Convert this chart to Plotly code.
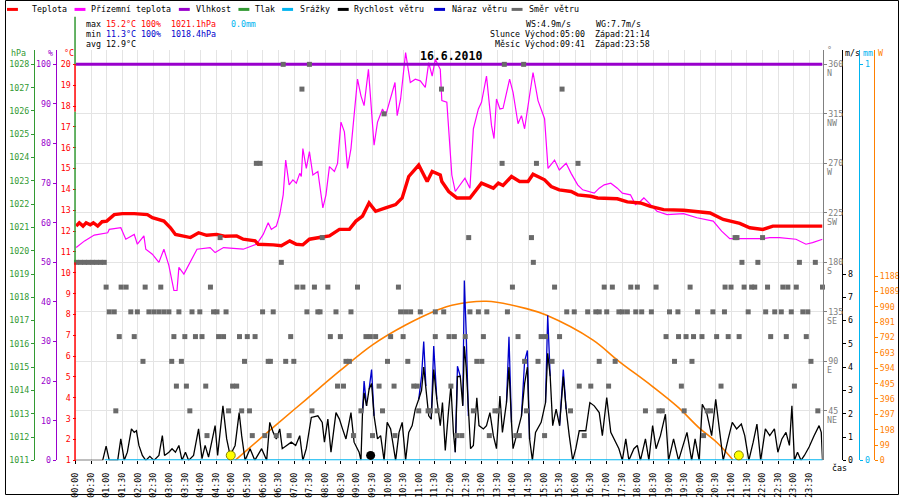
import plotly.graph_objects as go

# ---------------- data ----------------
tick_hours = [i * 0.5 for i in range(48)]
time_labels = ["%02d:%02d" % (int(h), 30 if h % 1 else 0) for h in tick_hours]

# air temperature (°C)
temp_t = [0.02, 0.12, 0.24, 0.34, 0.47, 0.57, 0.71, 0.85, 1.00, 1.24,
          1.50, 1.88, 2.30, 2.46, 2.83, 3.04, 3.20, 3.68, 3.94, 4.20,
          4.52, 4.80, 5.16, 5.37, 5.75, 5.85, 6.33, 6.59, 6.86, 7.07,
          7.28, 7.49, 7.81, 8.13, 8.45, 8.77, 8.98, 9.19, 9.40, 9.61,
          9.93, 10.25, 10.46, 10.67, 10.99, 11.26, 11.42, 11.68, 11.73, 11.95,
          12.21, 12.63, 13.00, 13.38, 13.54, 13.69, 13.96, 14.22, 14.49, 14.65,
          15.02, 15.23, 15.49, 15.87, 16.08, 16.50, 16.72, 17.35, 17.67, 18.09,
          18.41, 18.83, 19.47, 19.90, 20.32, 20.74, 21.27, 21.59, 22.01, 22.33,
          23.92]
temp_v = [12.24, 12.40, 12.24, 12.40, 12.30, 12.40, 12.24, 12.45, 12.48, 12.79,
          12.84, 12.84, 12.79, 12.64, 12.48, 12.16, 11.84, 11.69, 11.92, 11.80,
          11.84, 11.75, 11.77, 11.61, 11.53, 11.37, 11.34, 11.30, 11.53, 11.37,
          11.34, 11.61, 11.69, 11.77, 12.08, 12.08, 12.48, 12.72, 13.35, 12.95,
          13.11, 13.27, 13.59, 14.62, 15.17, 14.38, 14.86, 14.69, 14.38, 13.90,
          13.59, 13.59, 14.30, 14.06, 14.30, 14.19, 14.62, 14.38, 14.38, 14.73,
          14.46, 14.14, 13.98, 13.90, 13.74, 13.67, 13.59, 13.55, 13.40, 13.35,
          13.19, 13.03, 13.00, 12.95, 12.87, 12.56, 12.37, 12.16, 12.08, 12.24,
          12.24]

# ground temperature (°C)
ground_t = [0.02, 0.29, 0.60, 1.03, 1.08, 1.45, 1.61, 1.77, 1.88, 1.98,
            2.19, 2.25, 2.46, 2.67, 2.83, 2.99, 3.15, 3.25, 3.31, 3.47,
            3.62, 3.89, 4.31, 4.47, 4.74, 5.37, 5.80, 6.01, 6.17, 6.27,
            6.43, 6.54, 6.65, 6.73, 6.84, 6.96, 7.07, 7.18, 7.23, 7.28,
            7.39, 7.49, 7.60, 7.76, 7.92, 8.02, 8.13, 8.29, 8.39, 8.50,
            8.61, 8.71, 8.82, 8.93, 9.03, 9.14, 9.24, 9.38, 9.45, 9.56,
            9.67, 9.83, 9.93, 10.09, 10.23, 10.30, 10.41, 10.57, 10.72, 10.88,
            11.04, 11.20, 11.31, 11.42, 11.52, 11.68, 11.73, 11.89, 12.05, 12.16,
            12.47, 12.63, 12.74, 12.90, 13.00, 13.16, 13.32, 13.40, 13.48, 13.59,
            13.69, 13.90, 14.01, 14.17, 14.28, 14.38, 14.65, 14.81, 15.02, 15.13,
            15.34, 15.49, 15.71, 15.87, 16.08, 16.24, 16.61, 16.77, 16.93, 17.14,
            17.35, 17.51, 17.77, 17.93, 18.09, 18.20, 18.41, 18.62, 18.94, 19.47,
            19.90, 20.42, 20.69, 20.95, 22.01, 22.23, 22.54, 23.07, 23.39, 23.60,
            23.92]
ground_v = [11.21, 11.53, 11.81, 11.92, 12.08, 12.16, 11.61, 11.77, 11.84, 11.37,
            11.77, 11.13, 10.89, 10.50, 11.13, 10.34, 9.15, 9.15, 10.26, 9.94,
            10.34, 11.13, 11.21, 10.97, 11.21, 11.13, 11.37, 11.84, 12.40, 12.08,
            12.24, 12.79, 13.74, 15.41, 14.22, 14.46, 14.30, 14.77, 14.62, 15.96,
            15.01, 15.81, 14.69, 14.86, 13.11, 13.74, 15.09, 14.86, 15.25, 17.23,
            16.76, 15.01, 15.96, 17.62, 19.29, 18.49, 18.02, 19.76, 18.18, 16.12,
            17.23, 17.86, 17.54, 18.34, 19.13, 17.54, 18.34, 20.56, 19.13, 19.29,
            19.21, 18.89, 20.08, 19.44, 20.24, 19.76, 18.26, 18.18, 14.69, 13.90,
            14.54, 14.06, 16.91, 17.86, 18.18, 19.44, 17.07, 16.44, 18.34, 17.86,
            17.89, 19.29, 18.66, 17.15, 17.54, 16.91, 19.61, 18.26, 17.39, 15.01,
            15.41, 14.93, 15.25, 14.77, 14.22, 13.98, 13.82, 14.06, 14.22, 14.30,
            14.06, 13.82, 13.74, 13.27, 13.43, 13.59, 13.27, 12.95, 12.79, 12.84,
            12.64, 12.48, 12.00, 11.64, 11.64, 11.69, 11.69, 11.61, 11.37, 11.45,
            11.61]

# humidity (%)
hum_t = [0.00, 6.00, 12.00, 18.00, 23.92]
hum_v = [100, 100, 100, 100, 100]

# precipitation (mm)
rain_t = [0.93, 23.92]
rain_v = [0.0, 0.0]

# wind speed (m/s)
wind_t = [0.00, 0.87, 0.98, 1.08, 1.35, 1.45, 1.56, 1.66, 1.79, 1.88,
          1.95, 2.03, 2.14, 2.25, 2.38, 2.51, 2.67, 2.78, 2.85, 2.99,
          3.09, 3.20, 3.31, 3.41, 3.52, 3.62, 3.78, 3.94, 4.05, 4.15,
          4.26, 4.47, 4.55, 4.72, 4.84, 4.95, 5.11, 5.24, 5.32, 5.43,
          5.59, 5.74, 5.96, 6.12, 6.22, 6.33, 6.43, 6.54, 6.62, 6.75,
          6.91, 7.05, 7.18, 7.28, 7.39, 7.55, 7.76, 7.90, 7.97, 8.08,
          8.18, 8.34, 8.45, 8.55, 8.66, 8.82, 8.92, 9.08, 9.14, 9.19,
          9.24, 9.32, 9.40, 9.48, 9.56, 9.67, 9.77, 9.88, 9.98, 10.09,
          10.20, 10.25, 10.36, 10.46, 10.57, 10.67, 10.78, 10.88, 10.99, 11.08,
          11.15, 11.22, 11.31, 11.39, 11.47, 11.57, 11.68, 11.75, 11.84, 11.94,
          12.02, 12.10, 12.16, 12.23, 12.32, 12.40, 12.45, 12.51, 12.58, 12.65,
          12.74, 12.85, 12.92, 13.06, 13.16, 13.27, 13.38, 13.48, 13.59, 13.67,
          13.80, 13.88, 13.96, 14.01, 14.12, 14.28, 14.38, 14.47, 14.54, 14.63,
          14.73, 14.91, 15.05, 15.12, 15.20, 15.28, 15.39, 15.50, 15.62, 15.71,
          15.81, 15.92, 16.02, 16.13, 16.34, 16.47, 16.61, 16.77, 16.87, 17.01,
          17.14, 17.24, 17.40, 17.51, 17.62, 17.72, 17.88, 17.99, 18.09, 18.25,
          18.36, 18.48, 18.59, 18.73, 18.89, 18.99, 19.15, 19.31, 19.47, 19.58,
          19.73, 19.84, 19.97, 20.07, 20.21, 20.37, 20.50, 20.60, 20.74, 20.90,
          21.03, 21.17, 21.32, 21.43, 21.56, 21.70, 21.82, 21.94, 22.09, 22.23,
          22.38, 22.49, 22.62, 22.75, 22.86, 22.94, 23.02, 23.12, 23.23, 23.34,
          23.49, 23.65, 23.81, 23.88, 23.92]
wind_v = [0, 0, 0.61, 0, 0, 0.92, 0, 0.35, 1.35, 1.20,
          1.27, 0.64, 0.21, 0, 0.17, 0, 0.21, 1.06, 0.21, 0.35,
          0.50, 0.35, 0.64, 0, 0.35, 0, 0.21, 1.35, 0.07, 0.64,
          0.14, 1.49, 0.21, 2.34, 0.92, 0.21, 0.64, 2.05, 1.06, 0,
          0.50, 0, 0.50, 0, 1.63, 1.20, 0.92, 1.35, 0.50, 0.64,
          0.78, 0.64, 1.06, 0, 0.50, 1.84, 1.91, 1.63, 0.78, 1.77,
          0.35, 2.05, 1.77, 1.35, 0.92, 2.05, 0.78, 0.35, 0, 2.05,
          2.90, 2.34, 3.05, 3.30, 1.91, 0.92, 1.06, 0, 1.63, 1.35,
          0.35, 0, 1.20, 1.63, 0, 1.20, 1.49, 2.20, 2.62, 3.00,
          4.00, 3.19, 1.91, 1.77, 3.90, 2.62, 1.49, 2.48, 0.42, 2.05,
          3.19, 1.20, 0.35, 3.60, 3.61, 2.34, 4.90, 4.00, 1.91, 0.50,
          0.64, 2.69, 1.49, 1.35, 1.49, 2.05, 1.06, 0.50, 2.76, 1.20,
          2.48, 4.00, 1.63, 0.50, 1.06, 1.91, 3.30, 4.00, 0.92, 0,
          1.20, 1.63, 2.48, 4.60, 3.61, 1.49, 2.20, 1.49, 3.60, 2.20,
          1.06, 0, 0.50, 1.27, 1.27, 2.48, 2.34, 2.05, 1.06, 2.69,
          1.20, 0.92, 0.50, 0, 0.92, 0, 0.50, 0.64, 0, 0.92,
          0, 1.49, 0.50, 1.06, 1.98, 0, 0.92, 0, 0.78, 1.20,
          0, 0.92, 0, 2.41, 2.05, 1.06, 2.62, 1.49, 0, 0.92,
          1.63, 1.35, 1.56, 1.06, 0, 0.78, 1.56, 0, 1.35, 1.06,
          1.35, 0.35, 0.92, 1.20, 0.64, 2.34, 0, 0.35, 0, 0.21,
          0.57, 1.06, 1.49, 1.20, 0]

# wind gusts (m/s) – only where they rise above the mean wind
gust_t = [9.19, 9.24, 9.32, None, 9.40, 9.48, 9.56, None,
          10.99, 11.08, 11.15, 11.22, None, 11.39, 11.47, 11.57, None,
          12.16, 12.23, 12.32, None, 12.40, 12.45, 12.51, 12.58, None,
          13.80, 13.88, 13.96, None, 14.28, 14.38, 14.47, 14.54, None,
          15.05, 15.12, 15.20, None, 15.50, 15.62, 15.71]
gust_v = [2.05, 3.40, 2.34, None, 3.05, 3.90, 1.91, None,
          2.62, 3.61, 5.10, 3.19, None, 1.77, 4.91, 2.62, None,
          0.35, 4.04, 3.61, None, 2.34, 7.72, 5.50, 1.91, None,
          2.48, 5.31, 1.63, None, 1.91, 4.25, 4.72, 0.92, None,
          2.48, 6.23, 3.61, None, 1.49, 3.90, 2.20]

# solar radiation (W)
solar_t = [5.11, 6.33, 7.39, 8.45, 9.51, 10.57, 11.63, 12.05, 13.16,
           14.44, 15.07, 16.56, 17.40, 18.46, 19.31, 19.95, 20.58, 21.06]
solar_v = [0, 213, 394, 575, 745, 873, 973, 1001, 1026,
           979, 937, 777, 639, 479, 340, 213, 107, 0]

# wind direction (degrees): observation times for each compass value
dir_values = [360, 337.5, 315, 270, 202.5, 180, 157.5, 135, 112.5, 90, 67.5, 45, 22.5]
dir_360 = [6.65, 7.49, 13.73, 14.35]
dir_337 = [7.25, 11.72, 15.58]
dir_315 = [9.88]
dir_270 = [5.79, 5.91, 13.66, 14.76, 16.09]
dir_202 = [4.63, 7.90, 12.59, 14.60, 21.12, 21.18, 22.00]
dir_180 = [0.03, 0.16, 0.29, 0.41, 0.54, 0.67, 0.80, 0.92, 6.59, 14.66,
           21.34, 21.85, 23.18, 23.69]
dir_157 = [0.98, 1.46, 1.62, 2.23, 2.73, 4.32, 7.09, 7.28, 7.65, 8.08,
           9.03, 10.34, 13.99, 15.34, 16.93, 17.19, 17.78, 17.99, 18.59, 19.68,
           20.80, 20.99, 21.41, 21.65, 21.75, 22.16, 22.65, 22.81, 23.08, 23.92]
dir_135 = [1.08, 1.24, 1.77, 1.98, 2.35, 2.51, 2.67, 2.83, 2.99, 3.31,
           3.73, 3.98, 4.42, 4.53, 4.82, 5.99, 6.33, 7.41, 7.76, 7.83,
           8.34, 8.82, 10.41, 10.57, 10.73, 11.04, 11.52, 11.79, 12.63, 12.90,
           13.17, 13.83, 15.73, 15.97, 16.40, 16.66, 16.77, 17.01, 17.40, 17.51,
           17.67, 17.94, 18.13, 18.44, 19.02, 19.29, 19.92, 20.41, 20.78, 21.54,
           22.10, 22.39, 22.60, 22.92, 23.29, 23.45]
dir_112 = [1.40, 1.88, 3.15, 3.50, 3.84, 4.05, 4.58, 4.74, 5.25, 5.50,
           5.75, 6.89, 8.16, 8.48, 9.30, 9.44, 9.61, 10.09, 10.49, 11.52,
           11.96, 12.13, 12.48, 13.06, 14.17, 14.91, 15.05, 15.50, 18.91, 19.31,
           19.55, 19.79, 20.06, 20.53, 20.90, 21.25, 22.26, 22.76, 23.40]
dir_090 = [2.16, 3.08, 3.39, 5.41, 6.17, 6.24, 6.73, 6.99, 8.66, 8.77,
           9.99, 10.64, 12.85, 13.01, 14.38, 14.81, 15.26, 16.77, 17.28, 19.18,
           19.74, 23.55]
dir_067 = [3.23, 3.55, 4.17, 5.03, 5.16, 8.39, 8.58, 9.72, 10.20, 10.83,
           10.94, 12.02, 16.13, 16.50, 17.07, 19.40, 20.67, 23.02]
dir_045 = [1.29, 3.66, 4.90, 5.32, 5.57, 7.57, 9.14, 9.83, 10.99, 11.29,
           11.36, 11.58, 12.74, 13.43, 13.54, 14.44, 15.85, 18.25, 18.68, 18.79,
           19.49, 20.23, 20.34, 23.77]
dir_022 = [4.21, 5.66, 6.06, 6.43, 6.84, 8.90, 9.51, 10.23, 12.21, 12.37,
           13.25, 14.10, 14.21, 15.02, 16.29, 20.11]
dir_rows = [dir_360, dir_337, dir_315, dir_270, dir_202, dir_180, dir_157,
            dir_135, dir_112, dir_090, dir_067, dir_045, dir_022]

# sun / moon rise-set markers (hours)
sun_t = [4.97, 21.24]
moon_t = [9.45, 24.10]
event_level_mm = [0.0125, 0.0125]

# axis tick values
temp_ticks = list(range(1, 21))
hum_ticks = list(range(0, 101, 10))
pres_ticks = list(range(1011, 1029))
dir_ticks = [45, 90, 135, 180, 225, 270, 315, 360]
dir_names = ["NE", "E", "SE", "S", "SW", "W", "NW", "N"]
ms_ticks = list(range(0, 9))
mm_ticks = [0, 1]
w_ticks = list(range(0, 1189, 99))

# ---------------- styling ----------------
W, H = 900, 500
FONT = "DejaVu Sans Mono"
FS = 8.3
C_TEMP = "#ff0000"
C_GROUND = "#ff00ff"
C_HUM = "#9900cc"
C_PRES = "#339933"
C_RAIN = "#00b4f0"
C_WIND = "#000000"
C_GUST = "#0000cc"
C_DIR = "#6a6a6a"
C_DIRAX = "#808080"
C_SUN = "#ff8000"
GRID = "#e4e4e4"


def px(x):
    return x / W


def py(y):
    return 1 - y / H


Y_DOMAIN = [py(465), py(50)]

fig = go.Figure()
fig.add_trace(go.Scatter(x=ground_t, y=ground_v, yaxis="y", mode="lines",
                         line=dict(color=C_GROUND, width=1.2)))
fig.add_trace(go.Scatter(x=temp_t, y=temp_v, yaxis="y", mode="lines",
                         line=dict(color=C_TEMP, width=3.4)))
fig.add_trace(go.Scatter(x=hum_t, y=hum_v, yaxis="y2", mode="lines",
                         line=dict(color=C_HUM, width=3)))
fig.add_trace(go.Scatter(x=[], y=[], yaxis="y3", mode="lines",
                         line=dict(color=C_PRES, width=2)))
fig.add_trace(go.Scatter(x=solar_t, y=solar_v, yaxis="y4", mode="lines",
                         line=dict(color=C_SUN, width=1.6, shape="spline")))
fig.add_trace(go.Scatter(x=gust_t, y=gust_v, yaxis="y5", mode="lines",
                         line=dict(color=C_GUST, width=1.3), connectgaps=False))
fig.add_trace(go.Scatter(x=wind_t, y=wind_v, yaxis="y5", mode="lines",
                         line=dict(color=C_WIND, width=1.3)))
fig.add_trace(go.Scatter(x=rain_t, y=rain_v, yaxis="y6", mode="lines",
                         line=dict(color=C_RAIN, width=2.2), cliponaxis=False))
fig.add_trace(go.Scatter(x=sun_t, y=event_level_mm, yaxis="y6", mode="markers",
                         marker=dict(color="#ffff00", size=9,
                                     line=dict(color="#808000", width=1)),
                         cliponaxis=False))
fig.add_trace(go.Scatter(x=moon_t, y=event_level_mm, yaxis="y6", mode="markers",
                         marker=dict(color="#000000", size=9), cliponaxis=False))
dir_x, dir_y = [], []
for val, row in zip(dir_values, dir_rows):
    dir_x += row
    dir_y += [val] * len(row)
fig.add_trace(go.Scatter(x=dir_x, y=dir_y, yaxis="y7", mode="markers",
                         marker=dict(symbol="square", size=5, color=C_DIR,
                                     line=dict(width=0)), cliponaxis=False))


def yax(color, rng, pos, side, tickvals, linecolor=None, showline=True, **kw):
    d = dict(domain=Y_DOMAIN, range=rng, anchor="free", position=pos, side=side,
             tickmode="array", tickvals=tickvals, ticks="outside", ticklen=3,
             tickwidth=1, tickcolor=linecolor or color, showline=showline,
             linecolor=linecolor or color, linewidth=1, showgrid=False,
             zeroline=False, fixedrange=True,
             tickfont=dict(family=FONT, size=FS, color=color))
    d.update(kw)
    return d


fig.update_layout(
    width=W, height=H, autosize=False,
    margin=dict(l=0, r=0, t=0, b=0, pad=0),
    paper_bgcolor="white", plot_bgcolor="white", showlegend=False,
    xaxis=dict(domain=[px(71), px(823)], range=[0, 23.92], anchor="y",
               tickmode="array", tickvals=tick_hours, ticktext=time_labels,
               tickangle=-90, ticks="outside", ticklen=3, tickcolor="#000000",
               ticklabelstandoff=5,
               showgrid=True, gridcolor=GRID, gridwidth=1, showline=False,
               zeroline=False, fixedrange=True,
               tickfont=dict(family=FONT, size=FS, color="#000000")),
    yaxis=yax(C_TEMP, [1, 20.7125], px(71), "left", temp_ticks, showline=False),
    yaxis2=yax(C_HUM, [0, 103.75], px(51), "left", hum_ticks, overlaying="y"),
    yaxis3=yax(C_PRES, [1011, 1028.6375], px(29), "left", pres_ticks, overlaying="y"),
    yaxis4=yax(C_SUN, [0, 2650.5], px(875), "right", w_ticks, overlaying="y"),
    yaxis5=yax(C_WIND, [0, 17.6375], px(843), "right", ms_ticks, overlaying="y"),
    yaxis6=yax(C_RAIN, [0, 1.0375], px(860), "right", mm_ticks, overlaying="y"),
    yaxis7=yax(C_DIRAX, [0, 373.5], px(823), "right", dir_ticks, overlaying="y",
               showgrid=True, gridcolor=GRID, gridwidth=1),
)

shapes = []
# outer frame
shapes.append(dict(type="rect", xref="paper", yref="paper", x0=px(0.5), x1=px(899.5),
                   y0=py(499.5), y1=py(0.5), line=dict(color="#000000", width=1)))
# temperature axis line (red) with the green segments on it
for y0, y1, col in [(65, 113, C_TEMP), (265, 465, C_TEMP), (17, 65, C_PRES), (113, 265, C_PRES)]:
    shapes.append(dict(type="line", xref="paper", yref="paper", x0=px(70.5), x1=px(70.5),
                       y0=py(y0), y1=py(y1), line=dict(color=col, width=1.5)))

# legend
legend_items = [("Teplota", C_TEMP, 2, 25), ("Přízemní teplota", C_GROUND, 70, 85),
                ("Vlhkost", C_HUM, 175, 190), ("Tlak", C_PRES, 235, 250),
                ("Srážky", C_RAIN, 279, 295), ("Rychlost větru", C_WIND, 335, 349),
                ("Náraz větru", C_GUST, 432, 448), ("Směr větru", C_DIR, 510, 525)]
annotations = []
for name, col, lx, tx in legend_items:
    shapes.append(dict(type="line", xref="paper", yref="paper", x0=px(lx), x1=px(lx + 11),
                       y0=py(9.5), y1=py(9.5), line=dict(color=col, width=3)))
    annotations.append(dict(xref="paper", yref="paper", x=px(tx), y=py(9.5), text=name,
                            showarrow=False, xanchor="left", yanchor="middle",
                            font=dict(family=FONT, size=FS, color="#000000")))
fig.update_layout(shapes=shapes)


def ann(x, y, text, color="#000000", size=FS, xanchor="left", **kw):
    annotations.append(dict(xref="paper", yref="paper", x=px(x), y=py(y), text=text,
                            showarrow=False, xanchor=xanchor, yanchor="middle",
                            font=dict(family=FONT, size=size, color=color), **kw))


ann(80, 24, "max <span style='color:#ff0000'>15.2°C 100%  1021.1hPa</span>   "
            "<span style='color:#00b4f0'>0.0mm</span>")
ann(80, 34, "min <span style='color:#0000cc'>11.3°C 100%  1018.4hPa</span>")
ann(80, 44, "avg 12.9°C")
ann(522.7, 24, "WS:4.9m/s     WG:7.7m/s")
ann(486.7, 34, "Slunce Východ:05:00  Západ:21:14")
ann(491.7, 44, "Měsíc Východ:09:41  Západ:23:58")
ann(448.5, 57, "<b>16.6.2010</b>", size=11.5, xanchor="center")
# axis unit labels
ann(4, 54, "hPa", C_PRES)
ann(41, 54, "%", C_HUM)
ann(57, 54, "°C", C_TEMP)
ann(826, 51, "°", C_DIRAX)
ann(844, 54, "m/s", C_WIND)
ann(862, 54, "mm", C_RAIN)
ann(877, 54, "W", C_SUN)
ann(840, 473, "čas", xanchor="center")
# compass letters under the direction ticks
for v, n in zip(dir_ticks, dir_names):
    annotations.append(dict(xref="paper", yref="y7", x=px(826), y=v, yshift=-9, text=n,
                            showarrow=False, xanchor="left", yanchor="middle",
                            font=dict(family=FONT, size=FS, color=C_DIRAX)))
fig.update_layout(annotations=annotations)

fig.write_html("out.html",
               config={"displayModeBar": False, "staticPlot": True},
               post_script="document.body.style.margin='0px';"
                           "document.body.style.overflow='hidden';")
